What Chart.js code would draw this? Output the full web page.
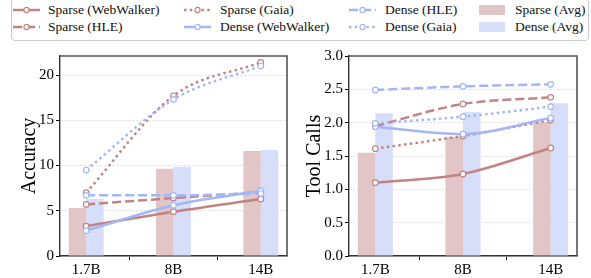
<!DOCTYPE html>
<html><head><meta charset="utf-8">
<script src="https://cdn.jsdelivr.net/npm/chart.js@4.4.1/dist/chart.umd.min.js"></script>
<style>
body{margin:0;width:591px;height:278px;overflow:hidden;background:#fff;font-family:'Liberation Serif','Times New Roman',Times,Tinos,serif;position:relative}
#legend{position:absolute;left:11px;top:-2px;width:578px;height:43px;border:1px solid #ccc;border-radius:4px;box-sizing:border-box}
.lt{position:absolute;font-size:13.5px;line-height:16px;color:#111;white-space:nowrap;transform:translateY(-50%)}
.lh{position:absolute;transform:translateY(-50%)}
#c1wrap{position:absolute;left:0;top:45px;width:296px;height:233px}
#c2wrap{position:absolute;left:296px;top:45px;width:295px;height:233px}
</style></head>
<body>
<div id="legend"></div>
<div id="c1wrap"><canvas id="c1" width="296" height="233"></canvas></div>
<div id="c2wrap"><canvas id="c2" width="295" height="233"></canvas></div>
<script>
// ---- data ----
const categories = ['1.7B', '8B', '14B'];
const seriesNames = ['Sparse (WebWalker)', 'Sparse (HLE)', 'Sparse (Gaia)', 'Dense (WebWalker)', 'Dense (HLE)', 'Dense (Gaia)'];
const barNames = ['Sparse (Avg)', 'Dense (Avg)'];

// Accuracy panel
const accSparseWebWalker = [3.3, 4.9, 6.3];
const accSparseHLE       = [5.7, 6.4, 7.05];
const accSparseGaia      = [7.0, 17.7, 21.4];
const accDenseWebWalker  = [2.8, 5.6, 7.2];
const accDenseHLE        = [6.7, 6.7, 6.9];
const accDenseGaia       = [9.5, 17.3, 21.0];
const accSparseAvg       = [5.3, 9.65, 11.6];
const accDenseAvg        = [6.3, 9.85, 11.7];
const accTicks = [0, 5, 10, 15, 20];

// Tool calls panel
const tcSparseWebWalker = [1.10, 1.23, 1.62];
const tcSparseHLE       = [1.95, 2.28, 2.38];
const tcSparseGaia      = [1.61, 1.80, 2.04];
const tcDenseWebWalker  = [1.94, 1.83, 2.07];
const tcDenseHLE        = [2.49, 2.545, 2.575];
const tcDenseGaia       = [1.99, 2.09, 2.24];
const tcSparseAvg       = [1.55, 1.79, 2.01];
const tcDenseAvg        = [2.14, 2.16, 2.29];
const tcTicks = [0, 0.5, 1.0, 1.5, 2.0, 2.5, 3.0];

// ---- styles ----
const RED = '#c48383', BLUE = '#a3b6f7';
const RED_BAR = '#e2c5c6', BLUE_BAR = '#d6defa';
const FONT = "'Liberation Serif', 'Times New Roman', Times, Tinos, serif";
const styleOf = [
  {color: RED, dash: []},
  {color: RED, dash: [9, 4]},
  {color: RED, dash: [2.5, 3.3]},
  {color: BLUE, dash: []},
  {color: BLUE, dash: [9, 4]},
  {color: BLUE, dash: [2.5, 3.3]},
];

// ---- legend (column-major, 4 columns x 2 rows) ----
const legendOrder = [...seriesNames, ...barNames];
const colX = [[13, 48], [184, 220], [349, 385], [479, 515]];
const rowY = [9.5, 26.5];
const leg = document.body;
legendOrder.forEach((name, k) => {
  const col = Math.floor(k / 2), row = k % 2;
  const [hx, tx] = colX[col];
  const y = rowY[row];
  const h = document.createElement('div');
  h.className = 'lh';
  h.style.left = hx + 'px'; h.style.top = y + 'px';
  let svg;
  if (k < 6) {
    const s = styleOf[k];
    svg = `<svg width="27" height="10"><line x1="0" y1="5" x2="27" y2="5" stroke="${s.color}" stroke-width="2.5" stroke-dasharray="${s.dash.join(',') || 'none'}"/><circle cx="13.5" cy="5" r="2.6" fill="#fff" stroke="${s.color}" stroke-width="1.2"/></svg>`;
  } else {
    svg = `<svg width="26" height="10"><rect x="0" y="0" width="26" height="10" fill="${k === 6 ? RED_BAR : BLUE_BAR}"/></svg>`;
  }
  h.innerHTML = svg;
  leg.appendChild(h);
  const t = document.createElement('div');
  t.className = 'lt';
  t.style.left = tx + 'px'; t.style.top = y + 'px';
  t.textContent = name;
  leg.appendChild(t);
});

// ---- chart helper ----
const framePlugin = {
  id: 'frame',
  afterDatasetsDraw(c) {
    const {ctx, chartArea: a} = c;
    ctx.save();
    ctx.strokeStyle = '#555';
    ctx.lineWidth = 1.6;
    ctx.beginPath();
    ctx.moveTo(a.left, a.top); ctx.lineTo(a.right, a.top); ctx.lineTo(a.right, a.bottom);
    ctx.stroke();
    ctx.restore();
  }
};

function makeChart(id, lines, bars, yMax, yTicks, decimals, title, padLeft, yWidth, padRight) {
  const datasets = [];
  lines.forEach((vals, k) => {
    const s = styleOf[k];
    datasets.push({
      type: 'line', label: seriesNames[k],
      data: vals.map((v, i) => ({x: i, y: v})),
      borderColor: s.color, borderWidth: 2.5, borderDash: s.dash,
      pointRadius: 2.8, pointBorderWidth: 1.2, pointBackgroundColor: '#fff', pointBorderColor: s.color,
      cubicInterpolationMode: 'monotone', order: 6 - k, clip: false
    });
  });
  bars.forEach((vals, k) => {
    datasets.push({
      type: 'bar', label: barNames[k],
      data: vals.map((v, i) => ({x: i, y: v})),
      backgroundColor: k === 0 ? RED_BAR : BLUE_BAR,
      categoryPercentage: 0.4, barPercentage: 1.0, order: 20
    });
  });
  return new Chart(document.getElementById(id), {
    type: 'bar',
    data: {datasets},
    options: {
      responsive: false, animation: false, devicePixelRatio: 1,
      layout: {padding: {left: padLeft, right: padRight, top: 8, bottom: 0}},
      plugins: {legend: {display: false}, tooltip: {enabled: false}},
      scales: {
        x: {
          type: 'linear', min: -0.3, max: 2.3, offset: false,
          afterBuildTicks: s => { s.ticks = categories.map((_, i) => ({value: i})); },
          afterFit: s => { s.height = 22; },
          ticks: {callback: (v, i) => categories[i], font: {family: FONT, size: 15}, color: '#000', padding: 1, maxRotation: 0, autoSkip: false},
          grid: {display: true, drawOnChartArea: false, drawTicks: true, tickLength: 4, tickColor: '#000'},
          border: {display: true, color: '#333', width: 1.4}
        },
        y: {
          min: 0, max: yMax,
          afterBuildTicks: s => { s.ticks = yTicks.map(v => ({value: v})); },
          afterFit: s => { s.width = yWidth; },
          ticks: {callback: v => Number(v).toFixed(decimals), font: {family: FONT, size: 15}, color: '#000', padding: 2},
          grid: {color: '#d4d4d4', lineWidth: 0.8, drawTicks: true, tickLength: 4, tickColor: '#000', tickBorderDash: [], tickWidth: 1},
          border: {display: true, color: '#333', width: 1.4, dash: [2, 2]},
          title: {display: true, text: title, font: {family: FONT, size: 20}, color: '#000', padding: 0}
        }
      }
    },
    plugins: [framePlugin]
  });
}

makeChart('c1',
  [accSparseWebWalker, accSparseHLE, accSparseGaia, accDenseWebWalker, accDenseHLE, accDenseGaia],
  [accSparseAvg, accDenseAvg], 22.1, accTicks, 0, 'Accuracy', 18, 42, 9);
makeChart('c2',
  [tcSparseWebWalker, tcSparseHLE, tcSparseGaia, tcDenseWebWalker, tcDenseHLE, tcDenseGaia],
  [tcSparseAvg, tcDenseAvg], 3.0, tcTicks, 1, 'Tool Calls', 7, 46, 14);
</script>
</body></html>
